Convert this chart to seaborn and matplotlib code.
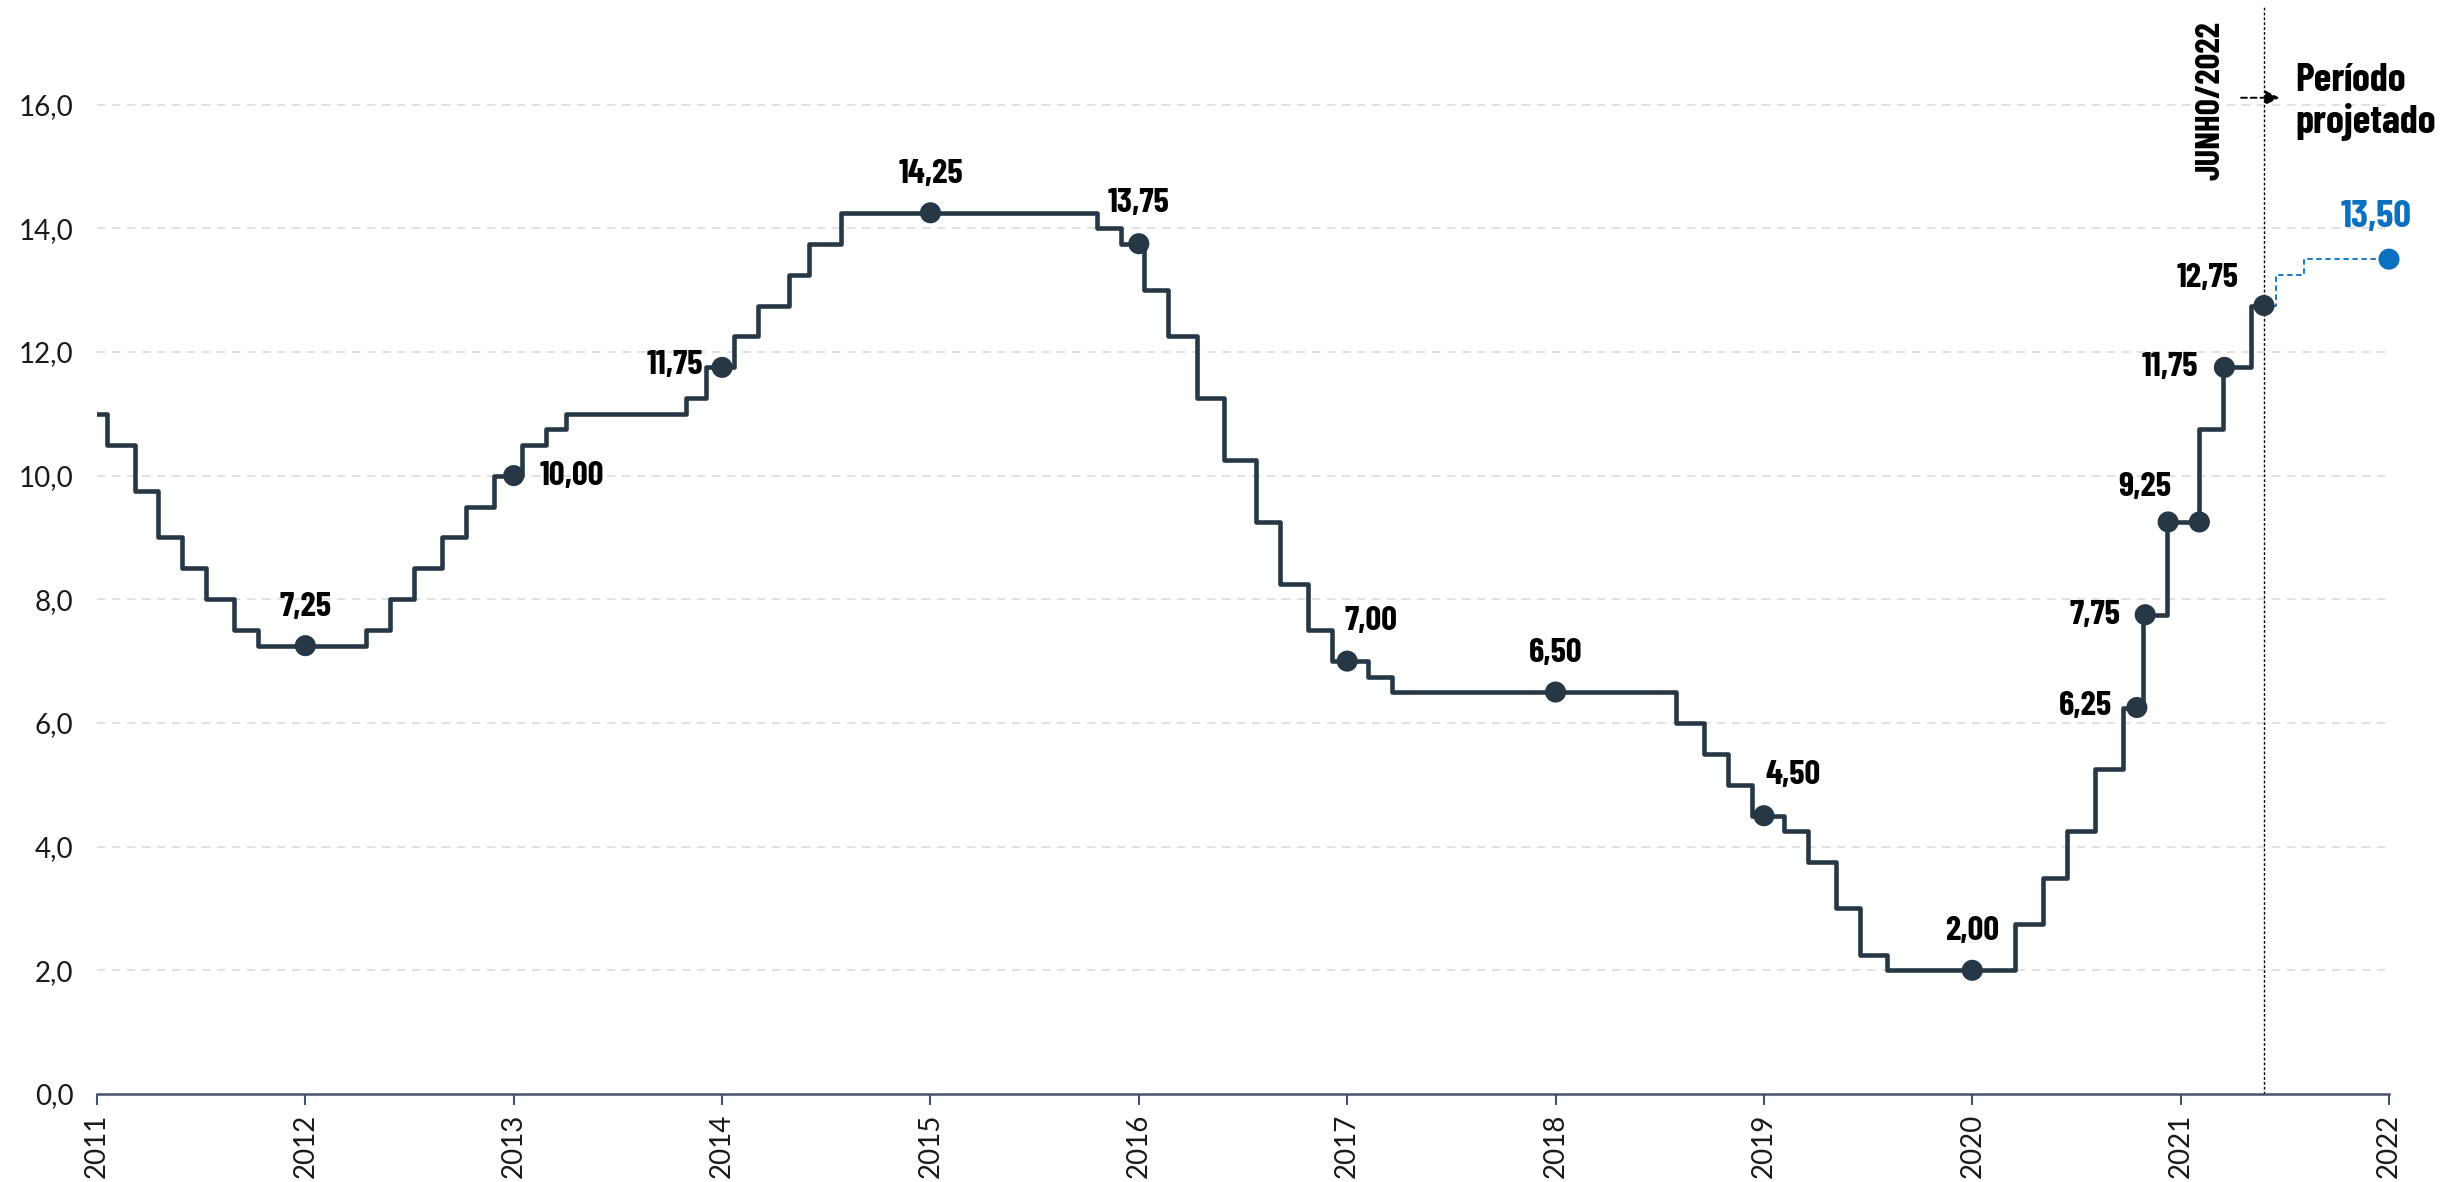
import matplotlib
matplotlib.use("Agg")
import matplotlib.pyplot as plt
import seaborn as sns
import pandas as pd
import numpy as np

# ---- data (x in the chart's axis units: year labels) ----
step_x = [2011.000, 2011.046, 2011.180, 2011.295, 2011.410, 2011.525, 2011.658, 2011.773,
          2012.290, 2012.405, 2012.521, 2012.655, 2012.770, 2012.904,
          2013.038, 2013.153, 2013.249, 2013.825, 2013.921,
          2014.055, 2014.170, 2014.323, 2014.419, 2014.573,
          2015.798, 2015.913,
          2016.027, 2016.142, 2016.277, 2016.411, 2016.564, 2016.679, 2016.814, 2016.929,
          2017.101, 2017.216,
          2018.578, 2018.712, 2018.827, 2018.942,
          2019.096, 2019.210, 2019.344, 2019.459, 2019.593,
          2020.205, 2020.340, 2020.455, 2020.589, 2020.723, 2020.819, 2020.934,
          2021.088, 2021.203, 2021.337, 2021.400]
step_rate = [11.00, 10.50, 9.75, 9.00, 8.50, 8.00, 7.50, 7.25,
             7.50, 8.00, 8.50, 9.00, 9.50, 10.00,
             10.50, 10.75, 11.00, 11.25, 11.75,
             12.25, 12.75, 13.25, 13.75, 14.25,
             14.00, 13.75,
             13.00, 12.25, 11.25, 10.25, 9.25, 8.25, 7.50, 7.00,
             6.75, 6.50,
             6.00, 5.50, 5.00, 4.50,
             4.25, 3.75, 3.00, 2.25, 2.00,
             2.75, 3.50, 4.25, 5.25, 6.25, 7.75, 9.25,
             10.75, 11.75, 12.75, 12.75]

proj_x = [2021.400, 2021.457, 2021.590, 2022.000]
proj_rate = [12.75, 13.25, 13.50, 13.50]

dot_x = [2012.0, 2013.0, 2014.0, 2015.0, 2016.0, 2017.0, 2018.0, 2019.0, 2020.0,
         2020.79, 2020.83, 2020.94, 2021.09, 2021.21, 2021.40]
dot_rate = [7.25, 10.00, 11.75, 14.25, 13.75, 7.00, 6.50, 4.50, 2.00,
            6.25, 7.75, 9.25, 9.25, 11.75, 12.75]
dot_label = ["7,25", "10,00", "11,75", "14,25", "13,75", "7,00", "6,50", "4,50", "2,00",
             "6,25", "7,75", "9,25", "", "11,75", "12,75"]

proj_dot_x = [2022.0]
proj_dot_rate = [13.50]
proj_dot_label = ["13,50"]

year_ticks = list(range(2011, 2023))
y_ticks = [0, 2, 4, 6, 8, 10, 12, 14, 16]
cut_x = 2021.40

# ---- style ----
sns.set_theme(style="white")
LINE = "#263746"
BLUE = "#0a70c0"
bold_font = dict(family="Barlow Condensed", weight="bold")
tick_family = "Lato"

W, H = 2451, 1182
fig = plt.figure(figsize=(W / 100, H / 100), dpi=100)
ax = fig.add_axes([97 / W, (H - 1094) / H, (2389 - 97) / W, (1094 - 7) / H])

df = pd.DataFrame({"x": step_x, "rate": step_rate})
dfp = pd.DataFrame({"x": proj_x, "rate": proj_rate})
dfd = pd.DataFrame({"x": dot_x, "rate": dot_rate})
dfpd = pd.DataFrame({"x": proj_dot_x, "rate": proj_dot_rate})

sns.lineplot(data=df, x="x", y="rate", ax=ax, color=LINE, lw=3.3,
             drawstyle="steps-post", estimator=None, zorder=3)
sns.lineplot(data=dfp, x="x", y="rate", ax=ax, color=BLUE, lw=1.3,
             drawstyle="steps-post", estimator=None, linestyle=(0, (3, 2)), zorder=3)
sns.scatterplot(data=dfd, x="x", y="rate", ax=ax, color=LINE, s=230,
                edgecolor="none", zorder=4)
sns.scatterplot(data=dfpd, x="x", y="rate", ax=ax, color=BLUE, s=230,
                edgecolor="none", zorder=4, clip_on=False)

# label placement (offsets in points)
offsets = [
    ((0, 28), "center"), ((19, 0), "left"), ((-14, 2), "right"), ((0, 28), "center"),
    ((0, 29), "center"), ((-2, 29), "left"), ((0, 28), "center"), ((1, 29), "left"),
    ((0, 28), "center"), ((-18, 1), "right"), ((-18, 0), "right"), ((2, 25), "right"),
    ((0, 0), "center"), ((-19, 0), "right"), ((-18, 20), "right"),
]
for x, y, lab, (off, ha) in zip(dot_x, dot_rate, dot_label, offsets):
    if lab:
        ax.annotate(lab, (x, y), xytext=off, textcoords="offset points",
                    ha=ha, va="center", fontsize=25, color="black", **bold_font)
for x, y, lab in zip(proj_dot_x, proj_dot_rate, proj_dot_label):
    ax.annotate(lab, (x, y), xytext=(-9, 30), textcoords="offset points",
                ha="center", va="center", fontsize=28, color=BLUE, **bold_font)

# vertical cut line + annotations
ax.axvline(cut_x, color="black", lw=1.0, linestyle=(0, (2, 1.5)), zorder=2)
ax.text(2021.144, 16.06, "JUNHO/2022", rotation=90, ha="center", va="center",
        fontsize=25, color="black", **bold_font)
ax.annotate("", xy=(2021.475, 16.11), xytext=(2021.29, 16.11),
            arrowprops=dict(arrowstyle="-|>", color="black", lw=1.4,
                            linestyle=(0, (3, 2)), mutation_scale=22,
                            shrinkA=0, shrinkB=0))
ax.text(2021.55, 16.04, "Período\nprojetado", ha="left", va="center",
        fontsize=29, color="black", linespacing=1.15, **bold_font)

# axes
ax.set_xlim(2011, 2022)
ax.set_ylim(0, (1094 - 7) / 61.84)
ax.set_xticks(year_ticks)
ax.set_xticklabels([str(y) for y in year_ticks], rotation=90)
ax.set_yticks(y_ticks)
ax.set_yticklabels([f"{v:.1f}".replace(".", ",") for v in y_ticks])
ax.set_xlabel("")
ax.set_ylabel("")
for t in ax.get_xticklabels() + ax.get_yticklabels():
    t.set_fontfamily(tick_family)
    t.set_fontweight("normal")
    t.set_fontsize(20)
    t.set_color("#1a1a1a")

for g in y_ticks[1:]:
    ax.axhline(g, color="#dcdcdc", lw=1.2, linestyle=(0, (5, 4)), zorder=1)

for s in ["top", "right", "left"]:
    ax.spines[s].set_visible(False)
ax.spines["bottom"].set_color("#44546a")
ax.spines["bottom"].set_linewidth(1.8)
ax.tick_params(axis="x", which="major", direction="out", length=8, width=1.5,
               color="#44546a", pad=6, bottom=True)
ax.tick_params(axis="y", which="major", length=0, pad=17)
ax.grid(False)

fig.savefig("out.png", dpi=100)
